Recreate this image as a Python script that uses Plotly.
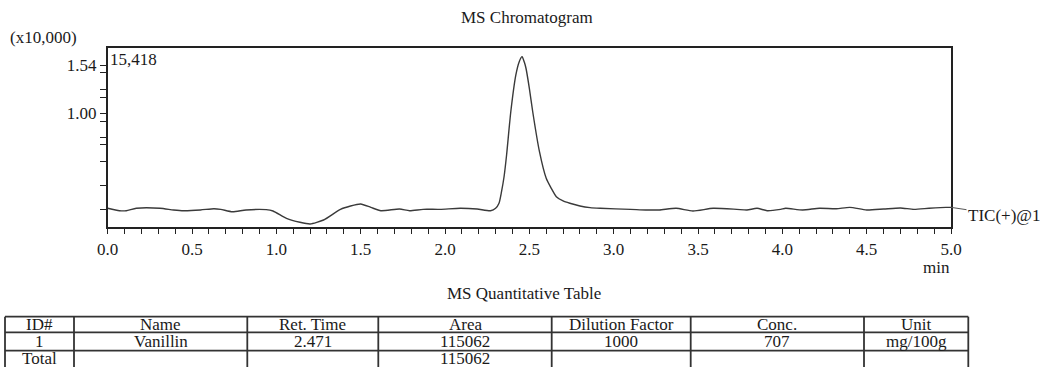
import plotly.graph_objects as go

# ---- chromatogram data (time in min, intensity in x10,000) ----
time_min = [0.00, 0.07, 0.11, 0.17, 0.31, 0.39, 0.45, 0.55, 0.63, 0.67, 0.74, 0.82, 0.94, 0.98,
            1.06, 1.14, 1.20, 1.28, 1.38, 1.44, 1.50, 1.56, 1.62, 1.73, 1.79, 1.87, 1.97, 2.09,
            2.19, 2.27, 2.30, 2.32, 2.335, 2.35, 2.365, 2.39, 2.42, 2.44, 2.457, 2.47, 2.48,
            2.50, 2.52, 2.56, 2.60, 2.63, 2.66, 2.70, 2.74, 2.80, 2.86, 2.92, 3.10, 3.19, 3.27,
            3.37, 3.47, 3.59, 3.73, 3.79, 3.85, 3.91, 3.99, 4.02, 4.12, 4.22, 4.32, 4.40, 4.50,
            4.60, 4.70, 4.78, 4.87, 4.97, 5.00]
intensity = [0.091, 0.068, 0.068, 0.091, 0.091, 0.075, 0.068, 0.075, 0.087, 0.081, 0.058, 0.075, 0.078, 0.065,
             -0.005, -0.043, -0.059, -0.021, 0.081, 0.113, 0.132, 0.100, 0.068, 0.084, 0.068, 0.081, 0.081, 0.091,
             0.084, 0.068, 0.091, 0.139, 0.250, 0.393, 0.601, 1.015, 1.367, 1.494, 1.542, 1.490, 1.431,
             1.239, 1.015, 0.633, 0.378, 0.282, 0.202, 0.161, 0.139, 0.113, 0.097, 0.091, 0.081, 0.075, 0.075,
             0.091, 0.065, 0.091, 0.081, 0.075, 0.091, 0.068, 0.081, 0.091, 0.075, 0.091, 0.087, 0.100, 0.075,
             0.084, 0.094, 0.081, 0.091, 0.100, 0.100]

x_tick_vals = [0.0, 0.5, 1.0, 1.5, 2.0, 2.5, 3.0, 3.5, 4.0, 4.5, 5.0]
x_tick_text = ["0.0", "0.5", "1.0", "1.5", "2.0", "2.5", "3.0", "3.5", "4.0", "4.5", "5.0"]
y_tick_vals = [1.462, 1.392, 1.230, 1.153, 1.000, 0.926, 0.767, 0.706, 0.537, 0.307, 0.081]
y_tick_text = ["1.54", "", "", "", "1.00", "", "", "", "", "", ""]

# ---- quantitative table ----
table_header = ["ID#", "Name", "Ret. Time", "Area", "Dilution Factor", "Conc.", "Unit"]
table_rows = [
    ["1", "Vanillin", "2.471", "115062", "1000", "707", "mg/100g"],
    ["Total", "", "", "115062", "", "", ""],
]
col_widths = [69, 173.3, 131, 173.4, 139, 173.3, 104.3]

FONT = "Liberation Serif, Times New Roman, serif"
TXT = "#1a1a1a"
W, H = 1042, 367
FS = 17

fig = go.Figure()
fig.add_trace(go.Scatter(x=time_min, y=intensity, mode="lines",
                         line=dict(color="#3a3a3a", width=1.4, shape="spline", smoothing=0.6),
                         showlegend=False, hoverinfo="skip"))

fig.update_layout(
    template="none",
    width=W, height=H, margin=dict(l=0, r=0, t=0, b=0, autoexpand=False),
    paper_bgcolor="white", plot_bgcolor="white",
    font=dict(family=FONT, size=FS, color=TXT),
    xaxis=dict(domain=[107.7 / W, 951 / W], range=[0, 5], showgrid=False, zeroline=False,
               automargin=False,
               showline=True, linecolor="#222", linewidth=1.5, mirror=True,
               ticks="outside", ticklen=6, tickwidth=1.2, tickcolor="#222",
               tickvals=x_tick_vals, ticktext=x_tick_text,
               minor=dict(dtick=0.1, ticks="outside", ticklen=6, tickwidth=1.2, tickcolor="#222"),
               tickfont=dict(family=FONT, size=FS, color=TXT)),
    yaxis=dict(domain=[(H - 226.7) / H, (H - 48.3) / H], range=[-0.0852, 1.622], showgrid=False,
               zeroline=False, showline=True, linecolor="#222", linewidth=1.5, mirror=True,
               automargin=False,
               ticks="outside", ticklen=6, tickwidth=1.2, tickcolor="#222",
               tickvals=y_tick_vals, ticktext=y_tick_text,
               tickfont=dict(family=FONT, size=FS, color=TXT)),
)

def ann(text, x, y, xanchor="center"):
    fig.add_annotation(text=text, xref="paper", yref="paper", x=x / W, y=(H - y) / H,
                       showarrow=False, xanchor=xanchor, yanchor="middle",
                       font=dict(family=FONT, size=FS, color=TXT))

ann("MS Chromatogram", 527, 18)
ann("(x10,000)", 8, 38, "left")
ann("15,418", 108, 60, "left")
ann("min", 936, 267)
ann("MS Quantitative Table", 524, 293)
fig.add_annotation(text="TIC(+)@1", x=time_min[-1], y=intensity[-1], xref="x", yref="y",
                   showarrow=True, arrowhead=0, arrowwidth=1, arrowcolor="#555",
                   ax=53, ay=8, xanchor="center", yanchor="middle",
                   font=dict(family=FONT, size=FS, color=TXT))

# ---- table grid and cell texts ----
t_left = 5.0
t_top = 316.7
row_lines = [316.7, 332.3, 350.7]
row_centers = [324.7, 341.7, 358.5]
edges = [t_left]
for w_ in col_widths:
    edges.append(edges[-1] + w_)
LC = "#333"
for yl in row_lines:
    fig.add_shape(type="line", xref="paper", yref="paper", x0=edges[0] / W, x1=edges[-1] / W,
                  y0=(H - yl) / H, y1=(H - yl) / H, line=dict(color=LC, width=1.8))
for xe in edges:
    fig.add_shape(type="line", xref="paper", yref="paper", x0=xe / W, x1=xe / W,
                  y0=(H - t_top) / H, y1=(H - 375) / H, line=dict(color=LC, width=1.8))
for ci, head in enumerate(table_header):
    cx = (edges[ci] + edges[ci + 1]) / 2
    ann(head, cx, row_centers[0])
    for ri, row in enumerate(table_rows):
        if row[ci]:
            ann(row[ci], cx, row_centers[ri + 1])

fig.write_html("out.html")
